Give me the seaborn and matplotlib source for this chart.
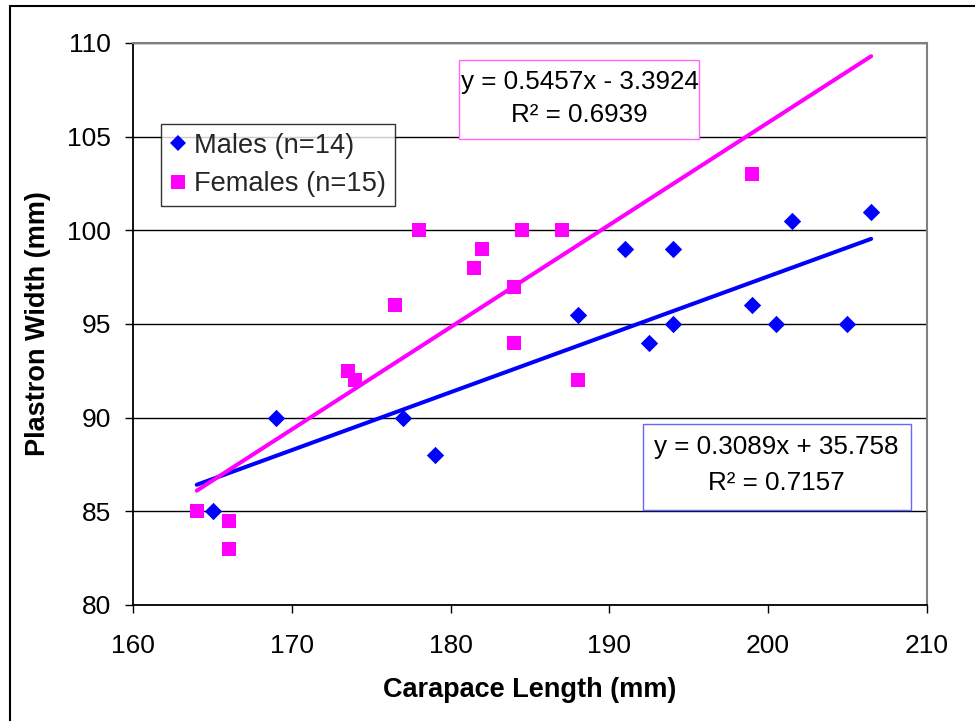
import numpy as np
import pandas as pd
import seaborn as sns
import matplotlib
matplotlib.use("Agg")
import matplotlib.pyplot as plt
from matplotlib.patches import Rectangle
from matplotlib.lines import Line2D

# ---- data ----
male_length = [165, 169, 177, 179, 188, 191, 192.5, 194, 194, 199, 200.5, 201.5, 205, 206.5]
male_width = [85, 90, 90, 88, 95.5, 99, 94, 99, 95, 96, 95, 100.5, 95, 101]
female_length = [164, 166, 166, 173.5, 174, 176.5, 178, 181.5, 182, 184, 184, 184.5, 187, 188, 199]
female_width = [85, 84.5, 83, 92.5, 92, 96, 100, 98, 99, 97, 94, 100, 100, 92, 103]
series_labels = ["Males (n=14)", "Females (n=15)"]
male_slope, male_intercept = 0.3089, 35.758
female_slope, female_intercept = 0.5457, -3.3924
male_eq = ["y = 0.3089x + 35.758", "R² = 0.7157"]
female_eq = ["y = 0.5457x - 3.3924", "R² = 0.6939"]
x_ticks = [160, 170, 180, 190, 200, 210]
y_ticks = [80, 85, 90, 95, 100, 105, 110]

sns.set_theme(style="white")
plt.rcParams["font.family"] = ["Liberation Sans", "DejaVu Sans"]

W, H = 975, 721
fig = plt.figure(figsize=(W / 100, H / 100), dpi=100)
fig.patch.set_facecolor("white")

L, R, T, B = 133.3, 926.7, 43.0, 605.0
ax = fig.add_axes([L / W, 1 - B / H, (R - L) / W, (B - T) / H])
ax.set_facecolor("white")

BLUE = "#0000FF"
MAG = "#FF00FF"

males = pd.DataFrame({"length": male_length, "width": male_width})
females = pd.DataFrame({"length": female_length, "width": female_width})

sns.scatterplot(data=males, x="length", y="width", marker="D", s=78, color=BLUE,
                linewidth=0, ax=ax, zorder=3, legend=False)
sns.scatterplot(data=females, x="length", y="width", marker="s", s=88, color=MAG,
                linewidth=0, ax=ax, zorder=3, legend=False)

all_x = np.array(male_length + female_length)
xr = np.array([all_x.min(), all_x.max()])
sns.lineplot(x=xr, y=male_slope * xr + male_intercept, color=BLUE, lw=2.9, ax=ax, zorder=4)
sns.lineplot(x=xr, y=female_slope * xr + female_intercept, color=MAG, lw=2.9, ax=ax, zorder=4)

ax.set_xlim(160, 210)
ax.set_ylim(80, 110)
ax.set_xticks(x_ticks)
ax.set_yticks(y_ticks)
ax.yaxis.grid(True, color="black", lw=1.0)
ax.xaxis.grid(False)
ax.set_axisbelow(True)

for s in ["left", "bottom"]:
    ax.spines[s].set_color("black")
    ax.spines[s].set_linewidth(1.3)
for s in ["top", "right"]:
    ax.spines[s].set_color("#808080")
    ax.spines[s].set_linewidth(1.5)

ax.tick_params(axis="both", which="major", direction="out", length=6, width=1,
               color="black", labelsize=19, labelcolor="black")
ax.tick_params(axis="x", pad=15, bottom=True)
ax.tick_params(axis="y", pad=10, left=True)

ax.set_xlabel("Carapace Length (mm)", fontsize=19.5, fontweight="bold", color="black")
ax.set_ylabel("Plastron Width (mm)", fontsize=19.5, fontweight="bold", color="black")
ax.xaxis.set_label_coords(0.5, (B - 690) / (B - T))
ax.xaxis.label.set_va("center")
ax.yaxis.set_label_coords((38 - L) / (R - L), 0.5)
ax.yaxis.label.set_va("center")

handles = [
    Line2D([], [], marker="D", ls="none", color=BLUE, markersize=8.6, markeredgewidth=0),
    Line2D([], [], marker="s", ls="none", color=MAG, markersize=9.6, markeredgewidth=0),
]
leg = ax.legend(handles, series_labels, loc="upper left",
                bbox_to_anchor=((161 - L) / (R - L), (B - 124) / (B - T)),
                borderaxespad=0, fontsize=19.6, frameon=True, fancybox=False,
                edgecolor="black", handlelength=0.6, handletextpad=0.27,
                labelspacing=0.45, borderpad=0.33)
leg.get_frame().set_linewidth(1.0)
leg.set_zorder(5)

# equation boxes
def eq_box(x0, y0, x1, y1, color, lines, ycenters, xc):
    fig.add_artist(Rectangle((x0 / W, 1 - y1 / H), (x1 - x0) / W, (y1 - y0) / H,
                             transform=fig.transFigure, facecolor="white",
                             edgecolor=color, lw=1.0, zorder=6))
    for txt, yc in zip(lines, ycenters):
        fig.text(xc / W, 1 - yc / H, txt, ha="center", va="center", fontsize=18.7,
                 color="black", zorder=7)

eq_box(459, 60, 699, 139, "#FF66FF", female_eq, [81.7, 115], 579.5)
eq_box(643, 424, 911, 510, "#6666FF", male_eq, [446.7, 483.3], 776)

# outer chart border (left and top visible)
fig.add_artist(Line2D([10 / W, 10 / W], [0, 1 - 6 / H], transform=fig.transFigure,
                      color="black", lw=1.5))
fig.add_artist(Line2D([10 / W, 1], [1 - 6 / H, 1 - 6 / H], transform=fig.transFigure,
                      color="black", lw=1.5))

fig.savefig("out.png", dpi=100)
